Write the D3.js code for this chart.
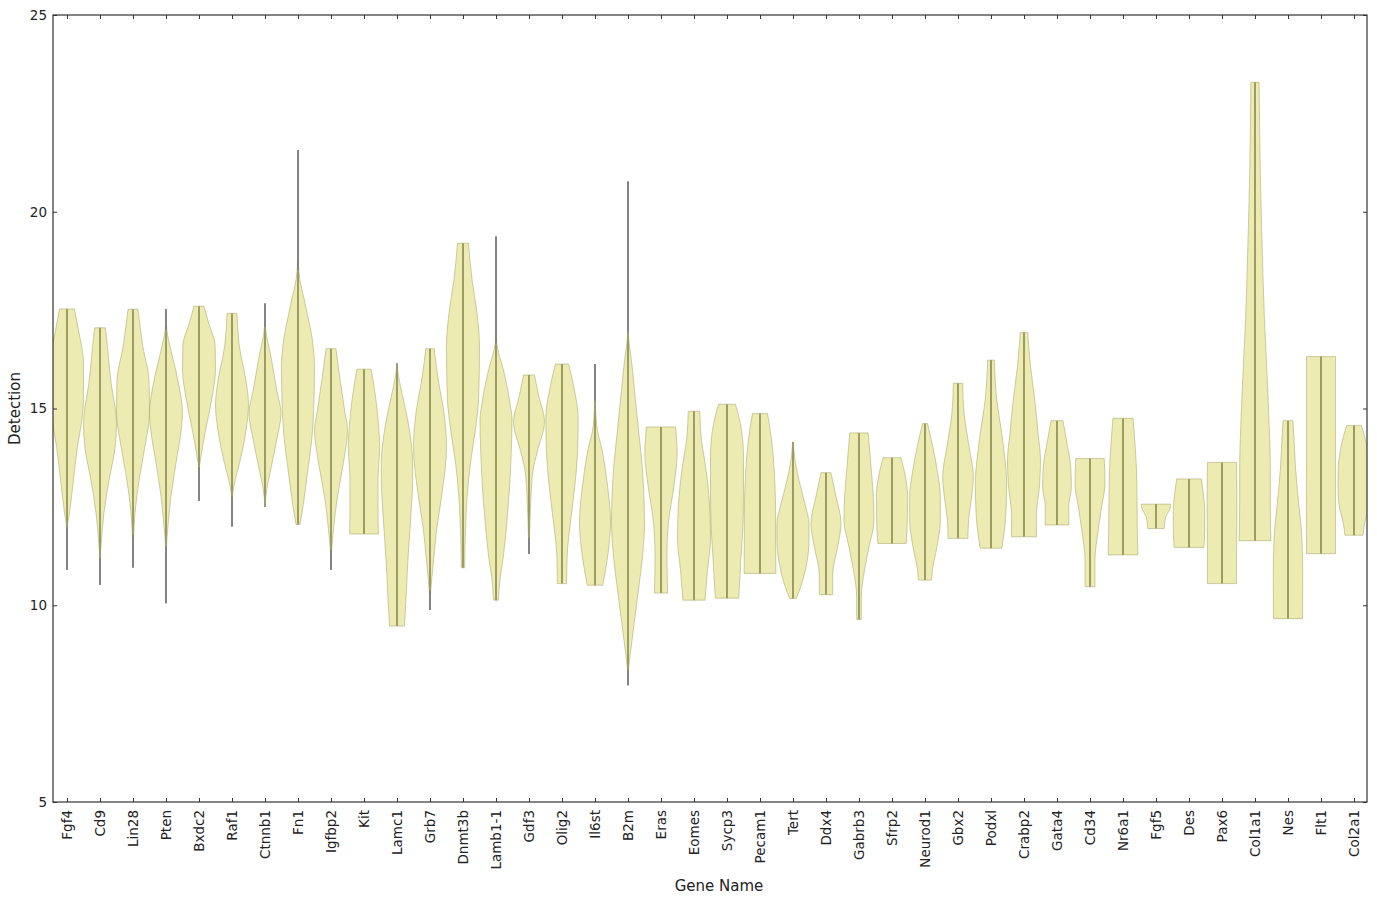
<!DOCTYPE html>
<html>
<head>
<meta charset="utf-8">
<script src="https://cdn.jsdelivr.net/npm/d3@7"></script>
<style>
  html, body { margin: 0; padding: 0; background: #ffffff; }
  svg { display: block; }
  text { font-family: "DejaVu Sans", "Liberation Sans", sans-serif; }
</style>
</head>
<body>
<svg id="chart" width="1377" height="897"></svg>
<script>
// ---------------- data ----------------
const genes = ["Fgf4","Cd9","Lin28","Pten","Bxdc2","Raf1","Ctnnb1","Fn1","Igfbp2","Kit",
  "Lamc1","Grb7","Dnmt3b","Lamb1-1","Gdf3","Olig2","Il6st","B2m","Eras","Eomes",
  "Sycp3","Pecam1","Tert","Ddx4","Gabrb3","Sfrp2","Neurod1","Gbx2","Podxl","Crabp2",
  "Gata4","Cd34","Nr6a1","Fgf5","Des","Pax6","Col1a1","Nes","Flt1","Col2a1"];

// Violin outlines: [detection value, relative half-width (1 = full slot)]
const profiles = [
  [[10.9,0],[12.0,0.03],[12.34,0.15],[13.18,0.39],[14.03,0.63],[14.7,0.9],[15.3,1.0],[16.15,1.0],[17.0,0.69],[17.53,0.45]],
  [[10.52,0],[11.2,0.02],[11.49,0.06],[12.34,0.24],[13.18,0.55],[14.03,0.92],[14.62,1.0],[15.72,0.65],[16.57,0.45],[17.05,0.33]],
  [[10.96,0],[11.8,0.04],[12.34,0.12],[13.18,0.37],[14.03,0.72],[14.88,1.0],[15.72,0.97],[16.57,0.6],[17.52,0.3]],
  [[10.05,0],[11.49,0.03],[12.0,0.12],[12.76,0.3],[13.6,0.6],[14.45,0.92],[14.88,1.0],[15.72,0.72],[16.57,0.25],[17.0,0.05],[17.52,0]],
  [[12.65,0],[13.5,0.03],[13.85,0.15],[14.45,0.4],[15.3,0.8],[16.0,1.0],[16.6,0.98],[17.15,0.6],[17.6,0.3]],
  [[12.0,0],[12.75,0.03],[13.1,0.15],[13.6,0.45],[14.45,0.85],[15.1,1.0],[15.7,0.85],[16.57,0.45],[17.42,0.3]],
  [[12.5,0],[12.93,0.1],[13.35,0.3],[14.2,0.71],[14.88,0.97],[15.47,0.71],[16.32,0.36],[17.08,0.03],[17.67,0]],
  [[12.05,0.12],[12.5,0.3],[13.35,0.57],[14.2,0.83],[15.22,0.97],[16.06,1.0],[16.74,0.87],[17.59,0.47],[18.52,0.05],[19.3,0.01],[21.57,0]],
  [[10.9,0],[11.41,0.04],[11.92,0.15],[12.76,0.39],[13.61,0.75],[14.46,1.0],[14.88,0.85],[15.73,0.55],[16.52,0.3]],
  [[11.81,0.87],[12.34,0.85],[13.19,0.85],[14.03,0.95],[14.46,0.9],[15.3,0.7],[16.0,0.43]],
  [[9.47,0.45],[10.2,0.55],[11.07,0.65],[12.34,0.85],[13.2,0.95],[13.61,0.95],[14.46,0.75],[15.3,0.35],[15.8,0.1],[16.15,0]],
  [[9.88,0],[10.39,0.05],[11.07,0.2],[11.92,0.4],[12.76,0.7],[14.03,1.0],[14.88,0.85],[15.73,0.5],[16.52,0.25]],
  [[10.95,0.1],[11.92,0.15],[12.76,0.25],[13.61,0.45],[14.46,0.75],[15.3,0.95],[16.57,1.0],[17.42,0.85],[18.27,0.55],[19.2,0.33]],
  [[10.13,0.15],[10.47,0.2],[11.32,0.47],[12.17,0.67],[13.0,0.82],[13.86,0.92],[14.71,0.97],[15.13,0.85],[15.98,0.45],[16.66,0.05],[17.2,0.01],[19.37,0]],
  [[11.3,0],[11.7,0.03],[12.6,0.1],[13.45,0.25],[13.9,0.5],[14.67,0.94],[15.3,0.6],[15.85,0.33]],
  [[10.55,0.28],[11.25,0.31],[12.13,0.52],[13.0,0.77],[13.88,0.94],[14.75,0.98],[15.6,0.69],[16.13,0.4]],
  [[10.51,0.47],[11.25,0.77],[12.13,0.94],[13.0,0.77],[13.88,0.46],[14.58,0.1],[15.2,0.02],[16.13,0]],
  [[7.97,0],[8.37,0.03],[8.63,0.1],[9.5,0.36],[10.38,0.63],[11.25,0.88],[12.13,1.0],[12.57,0.98],[13.44,0.88],[14.32,0.67],[15.19,0.46],[16.07,0.25],[16.94,0.02],[17.5,0],[20.77,0]],
  [[10.31,0.4],[11.25,0.36],[12.13,0.46],[13.0,0.77],[13.88,0.98],[14.2,0.95],[14.53,0.89]],
  [[10.13,0.67],[10.82,0.8],[11.69,1.0],[12.57,0.94],[13.44,0.73],[14.32,0.42],[14.93,0.35]],
  [[10.18,0.71],[11.23,0.85],[12.08,0.97],[12.93,1.0],[13.78,1.0],[14.62,0.81],[15.11,0.51]],
  [[10.81,0.96],[11.49,0.95],[12.33,0.95],[13.18,0.89],[14.03,0.75],[14.87,0.46]],
  [[10.17,0.2],[10.47,0.47],[11.06,0.83],[11.65,0.97],[12.08,0.97],[12.5,0.77],[13.18,0.36],[13.7,0.12],[14.15,0.02]],
  [[10.27,0.4],[10.81,0.41],[11.49,0.71],[12.08,0.91],[12.76,0.61],[13.37,0.3]],
  [[9.64,0.14],[10.21,0.14],[10.81,0.3],[11.49,0.61],[12.16,0.91],[12.76,0.87],[13.6,0.71],[14.38,0.56]],
  [[11.57,0.86],[11.91,0.91],[12.76,0.95],[13.18,0.85],[13.75,0.54]],
  [[10.64,0.4],[10.89,0.45],[11.49,0.73],[12.16,0.93],[12.76,0.93],[13.35,0.77],[14.03,0.47],[14.62,0.15]],
  [[11.7,0.6],[12.2,0.65],[12.67,0.8],[13.27,0.93],[14.03,0.67],[14.87,0.37],[15.64,0.28]],
  [[11.45,0.66],[12.25,0.89],[13.1,0.95],[13.69,0.85],[14.37,0.65],[15.22,0.35],[16.23,0.2]],
  [[11.74,0.76],[12.25,0.75],[13.1,0.95],[13.69,1.0],[14.37,0.85],[15.22,0.65],[16.06,0.4],[16.93,0.22]],
  [[12.04,0.72],[12.51,0.71],[13.01,0.87],[13.52,0.83],[14.2,0.57],[14.69,0.36]],
  [[10.47,0.3],[11.15,0.3],[11.83,0.47],[12.51,0.71],[13.1,0.91],[13.73,0.86]],
  [[11.28,0.9],[11.83,0.87],[12.67,0.85],[13.52,0.81],[14.2,0.71],[14.75,0.61]],
  [[11.95,0.5],[12.25,0.6],[12.45,0.85],[12.57,0.89]],
  [[11.47,0.9],[11.9,0.95],[12.4,0.95],[12.9,0.85],[13.21,0.75]],
  [[10.55,0.88],[11.3,0.88],[12.1,0.9],[12.9,0.9],[13.63,0.88]],
  [[11.64,0.96],[12.58,0.93],[13.52,0.93],[14.46,0.87],[15.87,0.73],[17.28,0.57],[19.16,0.43],[21.0,0.32],[23.29,0.25]],
  [[9.66,0.88],[10.7,0.89],[11.64,0.85],[12.58,0.65],[13.52,0.45],[14.1,0.38],[14.69,0.3]],
  [[11.31,0.88],[16.32,0.88]],
  [[11.78,0.55],[12.1,0.65],[12.58,0.92],[13.1,0.97],[13.52,0.95],[14.0,0.8],[14.57,0.45]]
];

const yTicks = [5, 10, 15, 20, 25];
const xLabel = "Gene Name";
const yLabel = "Detection";

// ---------------- layout ----------------
const L = 53, R = 1367, T = 15, B = 802;
const svg = d3.select("#chart");

const x = d3.scaleLinear().domain([0.576, 40.394]).range([L, R]);
const y = d3.scaleLinear().domain([5, 25]).range([B, T]);
const slotHalf = 0.5;      // half of one category slot in data units
const thin = 0.06;         // body narrower than this is drawn as a bare line

svg.append("defs").append("clipPath").attr("id", "plotClip")
  .append("rect").attr("x", L).attr("y", T).attr("width", R - L).attr("height", B - T);

const plot = svg.append("g").attr("clip-path", "url(#plotClip)");
const lineColor = "#828282";

genes.forEach((g, i) => {
  const pos = i + 1;
  const asc = profiles[i].slice().sort((a, b) => a[0] - b[0]);
  const n = asc.length;
  const vmin = asc[0][0], vmax = asc[n - 1][0];
  // centre bar (beneath the translucent body)
  plot.append("line")
    .attr("x1", x(pos)).attr("x2", x(pos))
    .attr("y1", y(vmin)).attr("y2", y(vmax))
    .attr("stroke", lineColor).attr("stroke-width", 1.8);
  // body
  const area = d3.area()
    .curve(d3.curveMonotoneY)
    .y(d => y(d[0]))
    .x0(d => x(pos - d[1] * slotHalf))
    .x1(d => x(pos + d[1] * slotHalf));
  plot.append("path")
    .attr("d", area(asc.slice().reverse()))
    .attr("fill", "rgb(191,191,0)")
    .attr("fill-opacity", 0.3)
    .attr("stroke", "rgb(165,165,105)")
    .attr("stroke-opacity", 0.55)
    .attr("stroke-width", 1);
  // bare tails of the bar (where the body is only a hairline)
  let k = 0;
  while (k < n && asc[k][1] < thin) k++;
  if (k > 1) {
    plot.append("line").attr("x1", x(pos)).attr("x2", x(pos))
      .attr("y1", y(asc[0][0])).attr("y2", y(asc[k - 1][0]))
      .attr("stroke", lineColor).attr("stroke-width", 1.8);
  }
  let m = n - 1;
  while (m >= 0 && asc[m][1] < thin) m--;
  if (m < n - 2) {
    plot.append("line").attr("x1", x(pos)).attr("x2", x(pos))
      .attr("y1", y(asc[n - 1][0])).attr("y2", y(asc[m + 1][0]))
      .attr("stroke", lineColor).attr("stroke-width", 1.8);
  }
});

// ---------------- axes ----------------
const tickColor = "#333";
const xb = svg.append("g").attr("transform", `translate(0,${B})`)
  .call(d3.axisBottom(x).tickValues(d3.range(1, genes.length + 1))
    .tickFormat(i => genes[i - 1]).tickSizeInner(-4).tickSizeOuter(0));
xb.select(".domain").remove();
xb.selectAll(".tick line").attr("stroke", tickColor);
xb.selectAll(".tick text")
  .attr("transform", "rotate(-90)")
  .attr("x", -8).attr("y", 0).attr("dy", "0.35em")
  .attr("text-anchor", "end")
  .attr("font-size", "13.5px").attr("fill", "#222");

const xt = svg.append("g").attr("transform", `translate(0,${T})`)
  .call(d3.axisTop(x).tickValues(d3.range(1, genes.length + 1))
    .tickFormat("").tickSizeInner(-4).tickSizeOuter(0));
xt.select(".domain").remove();
xt.selectAll(".tick line").attr("stroke", tickColor);

const yl = svg.append("g").attr("transform", `translate(${L},0)`)
  .call(d3.axisLeft(y).tickValues(yTicks).tickSizeInner(-4).tickSizeOuter(0).tickPadding(6));
yl.select(".domain").remove();
yl.selectAll(".tick line").attr("stroke", tickColor);
yl.selectAll(".tick text").attr("font-size", "13.5px").attr("fill", "#222");

const yr = svg.append("g").attr("transform", `translate(${R},0)`)
  .call(d3.axisRight(y).tickValues(yTicks).tickFormat("").tickSizeInner(-4).tickSizeOuter(0));
yr.select(".domain").remove();
yr.selectAll(".tick line").attr("stroke", tickColor);

// frame
svg.append("rect").attr("x", L).attr("y", T).attr("width", R - L).attr("height", B - T)
  .attr("fill", "none").attr("stroke", "#333").attr("stroke-width", 1.2);

// axis titles
svg.append("text").attr("x", 719).attr("y", 891)
  .attr("text-anchor", "middle").attr("font-size", "15px").attr("fill", "#222")
  .text(xLabel);
svg.append("text")
  .attr("transform", `translate(20,${(T + B) / 2}) rotate(-90)`)
  .attr("text-anchor", "middle").attr("font-size", "15px").attr("fill", "#222")
  .text(yLabel);
</script>
</body>
</html>
